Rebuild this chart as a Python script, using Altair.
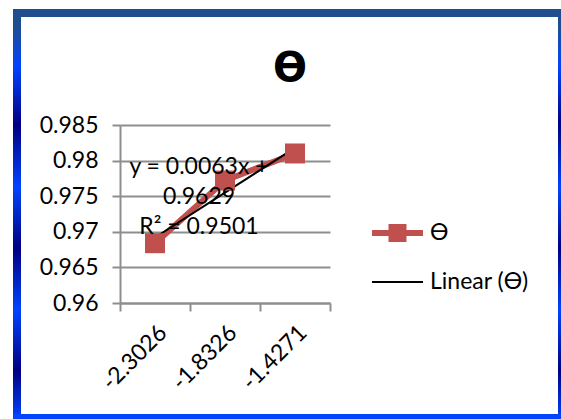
import altair as alt
import pandas as pd

# Category labels on the x axis and the measured series
x_labels = ["-2.3026", "-1.8326", "-1.4271"]
theta_values = [0.9684, 0.9772, 0.9810]

# Linear trendline coefficients (x = category index 1..3)
slope = 0.0063
intercept = 0.9629
r_squared = 0.9501

y_ticks = [0.96, 0.965, 0.97, 0.975, 0.98, 0.985]
series_name = "ϴ"
trend_name = "Linear (ϴ)"

RED = "#C0504D"
GRID = "#8E8E8E"
FONT = "Lato"

series = pd.DataFrame({"x": x_labels, "v": theta_values})
trend = pd.DataFrame({
    "x": x_labels,
    "v": [intercept + slope * (i + 1) for i in range(len(x_labels))],
})
one = alt.Data(values=[{"k": 0}])

W, H = 210, 178
PAD_L, PAD_T = 120, 125

x_enc = alt.X(
    "x:N",
    sort=x_labels,
    scale=alt.Scale(type="band", paddingInner=0, paddingOuter=0),
    bandPosition=0.5,
    axis=alt.Axis(
        title=None, tickBand="extent", labelAngle=-45, labelAlign="right",
        labelBaseline="top", labelPadding=10, labelFontSize=23,
        labelFont=FONT, labelColor="black", domainColor=GRID, domainWidth=2,
        tickColor=GRID, tickWidth=2, tickSize=8, grid=False,
    ),
)
y_enc = alt.Y(
    "v:Q",
    scale=alt.Scale(domain=[0.96, 0.985], nice=False, zero=False),
    axis=alt.Axis(
        title=None, values=y_ticks, format="~g", labelFontSize=23,
        labelFont=FONT, labelColor="black", labelPadding=14,
        domainColor=GRID, domainWidth=2, tickColor=GRID, tickWidth=2,
        tickSize=8, grid=True, gridColor=GRID, gridWidth=2,
    ),
)

line = alt.Chart(series).mark_line(color=RED, strokeWidth=6).encode(x=x_enc, y=y_enc)
markers = alt.Chart(series).mark_point(
    shape="square", size=400, filled=True, color=RED, opacity=1
).encode(x=x_enc, y=y_enc)
trend_line = alt.Chart(trend).mark_line(color="black", strokeWidth=2).encode(x=x_enc, y=y_enc)

eq_text = alt.Chart(one).mark_text(
    text=[f"y = {slope}x +", f"{intercept}", f"R² = {r_squared}"],
    font=FONT, fontSize=23, lineHeight=30, align="center", baseline="middle",
    color="black",
).encode(x=alt.value(79), y=alt.value(42))

title = alt.Chart(one).mark_text(
    text=series_name, font="DejaVu Sans", fontWeight="bold", fontSize=40,
    align="center", baseline="middle", color="black",
).encode(x=alt.value(170), y=alt.value(-56))

# Legend: series entry (line with square marker) and trendline entry
leg_line = alt.Chart(one).mark_rule(color=RED, strokeWidth=6).encode(
    x=alt.value(252), x2=alt.value(303), y=alt.value(108))
leg_mark = alt.Chart(one).mark_point(
    shape="square", size=324, filled=True, color=RED, opacity=1
).encode(x=alt.value(277.5), y=alt.value(108))
leg_text1 = alt.Chart(one).mark_text(
    text=series_name, font=FONT, fontSize=23, align="left", baseline="middle",
    color="black").encode(x=alt.value(310), y=alt.value(108))
leg_rule2 = alt.Chart(one).mark_rule(color="black", strokeWidth=2).encode(
    x=alt.value(252), x2=alt.value(303), y=alt.value(157))
leg_text2 = alt.Chart(one).mark_text(
    text=trend_name, font=FONT, fontSize=23, align="left", baseline="middle",
    color="black").encode(x=alt.value(310), y=alt.value(157))

# Blue frame around the chart area
def off(y):
    return (y - 9) / 410

side_gradient = alt.Gradient(
    gradient="linear", x1=0, x2=0, y1=0, y2=1,
    stops=[
        alt.GradientStop(offset=0, color="#1F4E8F"),
        alt.GradientStop(offset=off(25), color="#1F4E8F"),
        alt.GradientStop(offset=off(67), color="#0044FF"),
        alt.GradientStop(offset=off(125), color="#000080"),
        alt.GradientStop(offset=off(187), color="#0044FF"),
        alt.GradientStop(offset=off(248), color="#000080"),
        alt.GradientStop(offset=off(310), color="#0044FF"),
        alt.GradientStop(offset=off(370), color="#000080"),
        alt.GradientStop(offset=1, color="#0044FF"),
    ],
)

def frame_rect(x0, x1, y0, y1, fill):
    return alt.Chart(one).mark_rect(fill=fill, strokeWidth=0).encode(
        x=alt.value(x0 - PAD_L), x2=alt.value(x1 - PAD_L),
        y=alt.value(y0 - PAD_T), y2=alt.value(y1 - PAD_T))

frame = [
    frame_rect(13, 21, 9, 419, side_gradient),
    frame_rect(558, 561, 9, 419, side_gradient),
    frame_rect(13, 561, 414, 419, "#0044FF"),
    frame_rect(13, 561, 9, 17, "#1F4E8F"),
]

chart = alt.layer(
    line, trend_line, markers, eq_text, title,
    leg_line, leg_mark, leg_text1, leg_rule2, leg_text2, *frame,
).properties(
    width=W, height=H,
    autosize=alt.AutoSizeParams(type="none"),
    padding={"left": PAD_L, "top": PAD_T, "right": 561 - PAD_L - W, "bottom": 419 - PAD_T - H},
    background="white",
).configure_view(stroke="transparent")

chart.save("out.html", embed_options={"renderer": "svg", "actions": False})
